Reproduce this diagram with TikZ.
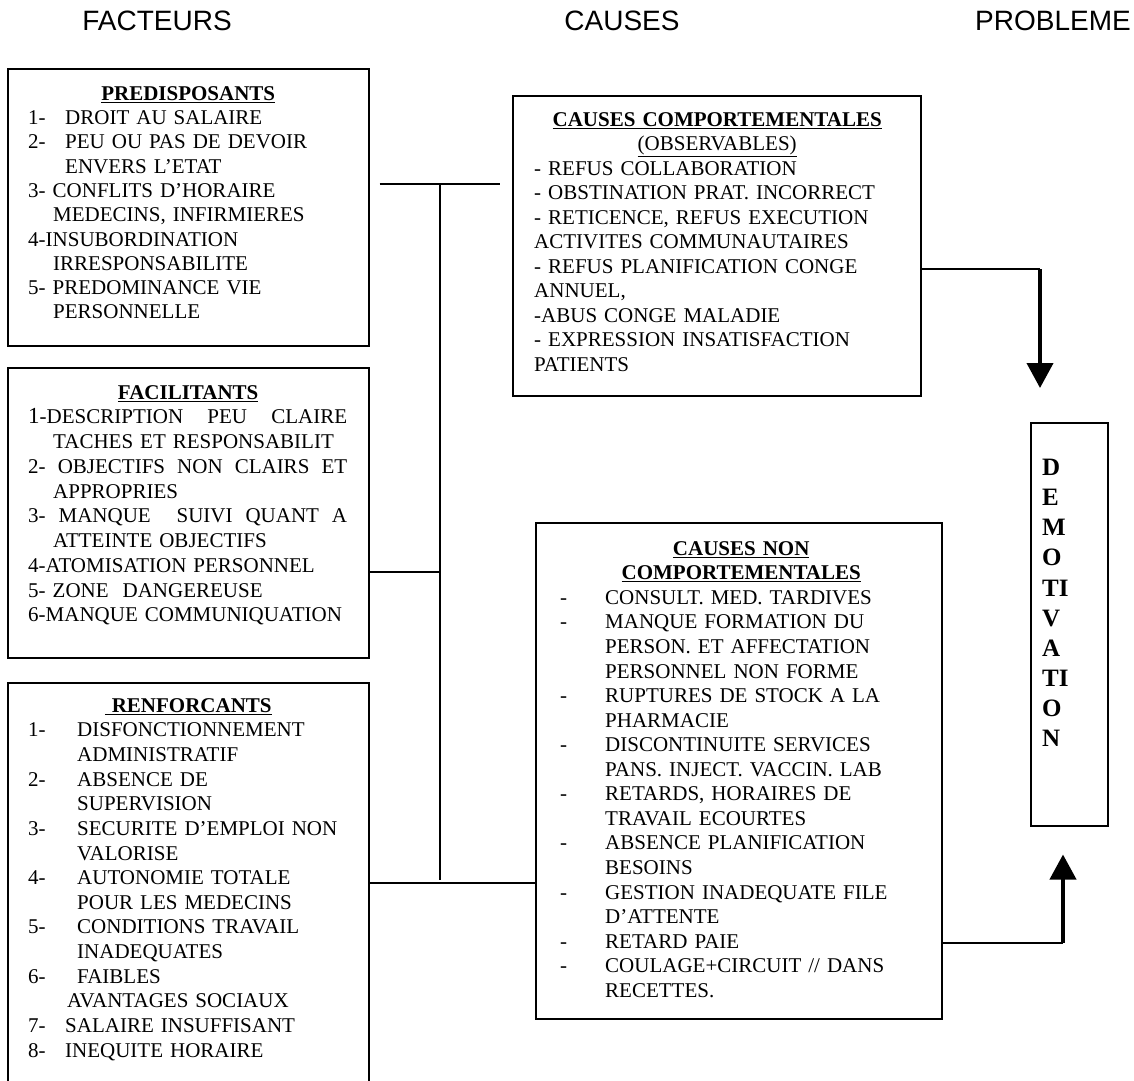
\documentclass[tikz,border=0pt]{standalone}
\usepackage{fontspec}
\setmainfont{Liberation Serif}
\newfontfamily\hdrfont{Liberation Sans}
\usetikzlibrary{arrows.meta}

\begin{document}
\begin{tikzpicture}[x=1pt,y=-1pt,
  frame/.style={draw, line width=1.5pt, inner sep=0pt, anchor=north west},
  body/.style={inner sep=0pt, anchor=north west, align=left},
  wire/.style={line width=1.5pt},
  feed/.style={line width=4pt, -{Triangle[width=26pt,length=25pt]}},
  head/.style={inner sep=0pt, font=\hdrfont\fontsize{28}{30}\selectfont}]

\useasboundingbox (0,0) rectangle (1134,1080);

% column headings
\node[head] (hfac) at (157,20.5) {FACTEURS};
\node[head] (hcau) at (622,20.5) {CAUSES};
\node[head, anchor=east] (hpro) at (1131,20.5) {PROBLEME};

% factor boxes
\node[frame, minimum width=361pt, minimum height=277pt] (pred) at (7,68) {};
\node[body, text width=320pt, font=\fontsize{21}{24.3}\selectfont] (predtxt) at (28,83)
{\strut\makebox[\linewidth]{\underline{\textbf{PREDISPOSANTS}}}\\
\makebox[37pt][l]{1-}DROIT AU SALAIRE\\
\makebox[37pt][l]{2-}PEU OU PAS DE DEVOIR\\
\hspace*{37pt}ENVERS L’ETAT\\
3- CONFLITS D’HORAIRE\\
\hspace*{25pt}MEDECINS, INFIRMIERES\\
4-INSUBORDINATION\\
\hspace*{25pt}IRRESPONSABILITE\\
5- PREDOMINANCE VIE\\
\hspace*{25pt}PERSONNELLE};

\node[frame, minimum width=361pt, minimum height=290pt] (faci) at (7,367) {};
\node[body, text width=320pt, font=\fontsize{21}{24.75}\selectfont] (facitxt) at (28,381.7)
{\strut\makebox[\linewidth]{\underline{\textbf{FACILITANTS}}}\\
\makebox[319pt][l]{{\fontsize{23}{24.75}\selectfont 1}-DESCRIPTION\hfill PEU\hfill CLAIRE}\\
\hspace*{25pt}TACHES ET RESPONSABILIT\\
\makebox[319pt][l]{2-\hfill OBJECTIFS\hfill NON\hfill CLAIRS\hfill ET}\\
\hspace*{25pt}APPROPRIES\\
\makebox[319pt][l]{3-\hfill MANQUE\hfill\hfill SUIVI\hfill QUANT\hfill A}\\
\hspace*{25pt}ATTEINTE OBJECTIFS\\
4-ATOMISATION PERSONNEL\\
5- ZONE\ \ DANGEREUSE\\
6-MANQUE COMMUNIQUATION};

\node[frame, minimum width=361pt, minimum height=405pt] (renf) at (7,682) {};
\node[body, text width=320pt, font=\fontsize{21}{24.64}\selectfont] (renftxt) at (28,694.75)
{\strut\makebox[\linewidth]{\underline{\textbf{\ RENFORCANTS}}}\\
\makebox[49pt][l]{1-}DISFONCTIONNEMENT\\
\hspace*{49pt}ADMINISTRATIF\\
\makebox[49pt][l]{2-}ABSENCE DE\\
\hspace*{49pt}SUPERVISION\\
\makebox[49pt][l]{3-}SECURITE D’EMPLOI NON\\
\hspace*{49pt}VALORISE\\
\makebox[49pt][l]{4-}AUTONOMIE TOTALE\\
\hspace*{49pt}POUR LES MEDECINS\\
\makebox[49pt][l]{5-}CONDITIONS TRAVAIL\\
\hspace*{49pt}INADEQUATES\\
\makebox[49pt][l]{6-}FAIBLES\\
\hspace*{39pt}AVANTAGES SOCIAUX\\
\makebox[37pt][l]{7-}SALAIRE INSUFFISANT\\
\makebox[37pt][l]{8-}INEQUITE HORAIRE};

% cause boxes
\node[frame, minimum width=408pt, minimum height=300pt] (cc) at (512,95) {};
\node[body, text width=366pt, font=\fontsize{21}{24.5}\selectfont] (cctxt) at (534,108.85)
{\strut\makebox[\linewidth]{\underline{\textbf{CAUSES COMPORTEMENTALES}}}\\
\makebox[\linewidth]{\underline{(OBSERVABLES)}}\\
- REFUS COLLABORATION\\
- OBSTINATION PRAT. INCORRECT\\
- RETICENCE, REFUS EXECUTION\\
ACTIVITES COMMUNAUTAIRES\\
- REFUS PLANIFICATION CONGE\\
ANNUEL,\\
-ABUS CONGE MALADIE\\
- EXPRESSION INSATISFACTION\\
PATIENTS};

\node[frame, minimum width=406pt, minimum height=496pt] (cnc) at (535,522) {};
\node[body, text width=362pt, font=\fontsize{21}{24.56}\selectfont] (cnctxt) at (560,537.8)
{\strut\makebox[\linewidth]{\underline{\textbf{CAUSES NON}}}\\
\makebox[\linewidth]{\underline{\textbf{COMPORTEMENTALES}}}\\
\makebox[45pt][l]{-}CONSULT. MED. TARDIVES\\
\makebox[45pt][l]{-}MANQUE FORMATION DU\\
\hspace*{45pt}PERSON. ET AFFECTATION\\
\hspace*{45pt}PERSONNEL NON FORME\\
\makebox[45pt][l]{-}RUPTURES DE STOCK A LA\\
\hspace*{45pt}PHARMACIE\\
\makebox[45pt][l]{-}DISCONTINUITE SERVICES\\
\hspace*{45pt}PANS. INJECT. VACCIN. LAB\\
\makebox[45pt][l]{-}RETARDS, HORAIRES DE\\
\hspace*{45pt}TRAVAIL ECOURTES\\
\makebox[45pt][l]{-}ABSENCE PLANIFICATION\\
\hspace*{45pt}BESOINS\\
\makebox[45pt][l]{-}GESTION INADEQUATE FILE\\
\hspace*{45pt}D’ATTENTE\\
\makebox[45pt][l]{-}RETARD PAIE\\
\makebox[45pt][l]{-}COULAGE+CIRCUIT // DANS\\
\hspace*{45pt}RECETTES.};

% problem box
\node[frame, minimum width=77pt, minimum height=403pt] (demot) at (1030,422) {};
\node[body, font=\bfseries\fontsize{25}{30.1}\selectfont] (demottxt) at (1042,454.4)
{\strut D\\E\\M\\O\\TI\\V\\A\\TI\\O\\N};

% junction points
\coordinate (bt) at (440,184);
\coordinate (bb) at (440,880);
\coordinate (fj) at (440,572);
\coordinate (rj) at (440,883);
\coordinate (j1) at (1040,269);
\coordinate (j2) at (1063,943);

% factors feeding the causes
\draw[wire, shorten <=10pt, shorten >=12pt] (pred.east |- bt) -- (cc.west |- bt);
\draw[wire] (bt) -- (bb);
\draw[wire] (faci.east |- fj) -- (fj);
\draw[wire] (renf.east |- rj) -- (cnc.west |- rj);

% causes leading to the problem
\draw[wire] (cc.east |- j1) -- (j1);
\draw[feed, shorten >=34pt] (j1) -- (j1 |- demot.north);
\draw[wire] (cnc.east |- j2) -- (j2);
\draw[feed, shorten >=28pt] (j2) -- (j2 |- demot.south);
\end{tikzpicture}
\end{document}
